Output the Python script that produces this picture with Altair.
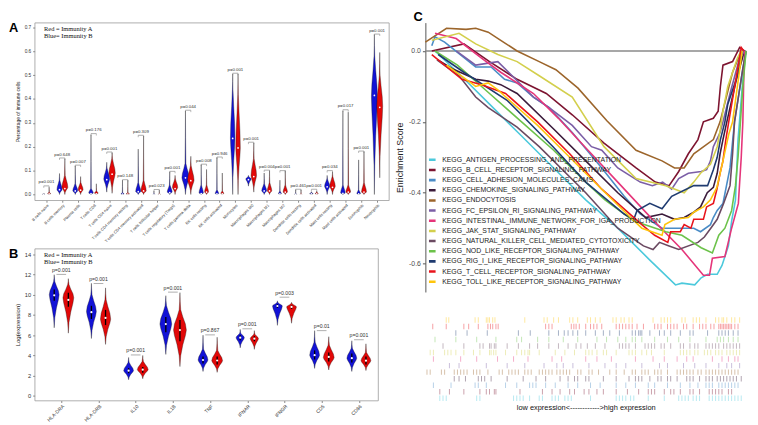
import json
import altair as alt
import pandas as pd

# ---------------- Panel A : immune cell fractions ----------------
A_CELLS = ["B cells naive", "B cells memory", "Plasma cells", "T cells CD8", "T cells CD4 naive",
           "T cells CD4 memory resting", "T cells CD4 memory activated", "T cells follicular helper",
           "T cells regulatory (Tregs)", "T cells gamma delta", "NK cells resting", "NK cells activated",
           "Monocytes", "Macrophages M0", "Macrophages M1", "Macrophages M2", "Dendritic cells resting",
           "Dendritic cells activated", "Mast cells resting", "Mast cells activated", "Eosinophils", "Neutrophils"]
A_PVALS = ["0.001", "0.648", "0.007", "0.176", "0.001", "0.148", "0.309", "0.023", "0.001", "0.044", "0.008",
           "0.946", "0.001", "0.001", "0.004", "0.001", "0.461", "0.001", "0.034", "0.017", "0.001", "0.001"]
A_BRACKET = [0.036, 0.153, 0.123, 0.255, 0.178, 0.062, 0.248, 0.021, 0.097, 0.353, 0.127, 0.157, 0.508,
             0.219, 0.102, 0.1, 0.022, 0.022, 0.1, 0.355, 0.182, 0.672]
A_BLUE_LO = [0, 0, 0, 0, 0.01, 0, 0, 0, 0, 0, 0, 0, 0, 0.035, 0, 0, 0, 0, 0, 0, 0, 0.0]
A_BLUE_MODE = [0.001, 0.02, 0.015, 0.006, 0.065, 0.002, 0.012, 0.001, 0.01, 0.07, 0.006, 0.004, 0.235, 0.065,
               0.015, 0.003, 0.001, 0.003, 0.035, 0.006, 0.003, 0.41]
A_BLUE_TOP = [0.003, 0.06, 0.045, 0.025, 0.11, 0.008, 0.05, 0.004, 0.04, 0.13, 0.04, 0.02, 0.44, 0.075, 0.045,
              0.015, 0.005, 0.008, 0.065, 0.04, 0.02, 0.58]
A_BLUE_HI = [0.005, 0.088, 0.12, 0.25, 0.135, 0.06, 0.19, 0.015, 0.095, 0.35, 0.125, 0.155, 0.505, 0.08, 0.09,
             0.06, 0.02, 0.012, 0.08, 0.35, 0.145, 0.67]
A_BLUE_HW = [1.2, 2.6, 2.5, 2.3, 3.0, 1.6, 2.6, 1.0, 2.5, 3.6, 2.2, 1.8, 2.3, 2.7, 2.5, 1.5, 1.0, 1.8, 2.6, 2.3,
             1.8, 3.0]
A_BLUE_MED = [0.001, 0.02, 0.015, 0.004, 0.062, 0.002, 0.012, 0.001, 0.008, 0.07, 0.004, 0.003, 0.235, 0.062,
              0.015, 0.003, 0.001, 0.003, 0.032, 0.005, 0.003, 0.415]
A_RED_LO = [0, 0, 0, 0, 0.005, 0, 0, 0, 0, 0, 0, 0, 0, 0.01, 0, 0, 0, 0, 0, 0, 0, 0.07]
A_RED_MODE = [0.003, 0.03, 0.02, 0.005, 0.09, 0.002, 0.015, 0.001, 0.03, 0.06, 0.01, 0.004, 0.195, 0.08, 0.015,
              0.01, 0.001, 0.003, 0.035, 0.01, 0.01, 0.37]
A_RED_TOP = [0.01, 0.08, 0.05, 0.015, 0.15, 0.008, 0.06, 0.004, 0.065, 0.12, 0.04, 0.015, 0.42, 0.15, 0.05, 0.04,
             0.005, 0.01, 0.075, 0.04, 0.05, 0.5]
A_RED_HI = [0.03, 0.15, 0.075, 0.045, 0.175, 0.06, 0.245, 0.018, 0.08, 0.16, 0.105, 0.09, 0.505, 0.216, 0.1, 0.1,
            0.02, 0.015, 0.095, 0.345, 0.18, 0.595]
A_RED_HW = [1.5, 3.0, 2.5, 1.8, 3.2, 1.6, 2.7, 1.0, 2.7, 3.3, 2.0, 1.5, 2.3, 2.8, 2.3, 2.2, 1.0, 1.5, 2.8, 2.4,
            2.5, 3.0]
A_RED_MED = [0.003, 0.025, 0.018, 0.003, 0.085, 0.002, 0.015, 0.001, 0.025, 0.058, 0.01, 0.003, 0.195, 0.075,
             0.015, 0.01, 0.001, 0.003, 0.03, 0.01, 0.01, 0.365]

# ---------------- Panel B : gene expression ----------------
B_GENES = ["HLA-DRA", "HLA-DRB", "IL10", "IL1B", "TNF", "IFNAR", "IFNGR", "CD5", "CD86"]
B_PVALS = ["0.001", "0.001", "0.001", "0.001", "0.867", "0.001", "0.003", "0.01", "0.001"]
B_BRACKET = [12.0, 11.1, 4.05, 10.25, 6.03, 6.63, 9.75, 6.45, 5.55]
B_BLUE_LO = [6.73, 5.67, 1.6, 4.1, 2.42, 4.75, 6.97, 2.72, 2.42]
B_BLUE_MODE = [10.0, 8.33, 2.5, 7.1, 3.55, 5.75, 8.88, 4.03, 3.73]
B_BLUE_TOP = [11.3, 10.0, 3.3, 8.9, 4.6, 6.2, 9.2, 5.3, 4.7]
B_BLUE_HI = [11.97, 11.12, 3.8, 9.9, 6.0, 6.57, 9.39, 6.45, 5.45]
B_BLUE_HW = [5.0, 5.0, 5.0, 6.0, 5.0, 4.2, 5.0, 5.0, 5.0]
B_BLUE_MED = [9.94, 8.27, 2.5, 7.1, 3.55, 5.75, 8.88, 4.03, 3.73]
B_BLUE_Q1 = [9.4, 7.6, 2.25, 6.3, 3.2, 5.5, 8.7, 3.6, 3.3]
B_BLUE_Q3 = [10.5, 8.9, 2.75, 7.8, 3.9, 6.0, 9.05, 4.5, 4.2]
B_RED_LO = [6.2, 5.09, 1.7, 2.9, 2.33, 4.6, 7.18, 2.57, 2.51]
B_RED_MODE = [9.7, 7.58, 2.6, 6.5, 3.48, 5.66, 8.79, 3.79, 3.48]
B_RED_TOP = [11.0, 9.5, 3.4, 8.5, 4.5, 6.1, 9.1, 5.0, 4.3]
B_RED_HI = [11.58, 10.67, 4.0, 10.2, 5.8, 6.45, 9.24, 5.85, 5.15]
B_RED_HW = [5.5, 5.2, 5.5, 6.5, 5.5, 4.2, 5.0, 5.5, 5.0]
B_RED_MED = [9.48, 7.7, 2.6, 6.5, 3.5, 5.66, 8.79, 3.85, 3.48]
B_RED_Q1 = [8.8, 7.0, 2.3, 5.4, 3.1, 5.4, 8.6, 3.4, 3.1]
B_RED_Q3 = [10.2, 8.5, 2.85, 7.5, 3.9, 5.9, 8.95, 4.3, 3.9]

# ---------------- Panel C : GSEA running enrichment scores ----------------
PATHWAYS = ["KEGG_ANTIGEN_PROCESSING_AND_PRESENTATION", "KEGG_B_CELL_RECEPTOR_SIGNALING_PATHWAY",
            "KEGG_CELL_ADHESION_MOLECULES_CAMS", "KEGG_CHEMOKINE_SIGNALING_PATHWAY", "KEGG_ENDOCYTOSIS",
            "KEGG_FC_EPSILON_RI_SIGNALING_PATHWAY", "KEGG_INTESTINAL_IMMUNE_NETWORK_FOR_IGA_PRODUCTION",
            "KEGG_JAK_STAT_SIGNALING_PATHWAY", "KEGG_NATURAL_KILLER_CELL_MEDIATED_CYTOTOXICITY",
            "KEGG_NOD_LIKE_RECEPTOR_SIGNALING_PATHWAY", "KEGG_RIG_I_LIKE_RECEPTOR_SIGNALING_PATHWAY",
            "KEGG_T_CELL_RECEPTOR_SIGNALING_PATHWAY", "KEGG_TOLL_LIKE_RECEPTOR_SIGNALING_PATHWAY"]
PATH_COLORS = ["#4CC9DC", "#7D1430", "#4A8CC6", "#3B1B3B", "#9C652B", "#7B5EA6", "#E5357A",
               "#D3CF4C", "#6B4A62", "#6CC24A", "#1F3B70", "#E8141C", "#FFC50C"]

ES_X = [
    [3, 10, 20, 30, 40, 50, 60, 70, 78, 80, 84, 86, 88, 91, 92.5, 94.5, 95.5, 96.7, 97.5, 99, 100],
    [2, 12, 20, 28.6, 37.7, 45.8, 55.7, 65.7, 71.7, 76, 79, 82, 85, 86.7, 89.8, 91.3, 92, 92.8, 95.8, 98, 99.5],
    [2, 3, 6, 15.7, 20.5, 24.7, 28.6, 33.7, 38.6, 45.8, 55, 62, 67, 73.8, 83.7, 85.8, 88.9, 89.8, 91, 92.8, 95,
     96.4, 99, 100],
    [3.9, 8.4, 15.7, 19.6, 23.5, 28.6, 40, 50, 60, 68.7, 73.8, 77.7, 80.7, 83.7, 85.8, 87.9, 89.8, 91, 91.9, 92.8,
     94, 97, 99.5],
    [0, 6.6, 12.7, 15.7, 19.6, 23.5, 28.6, 35.5, 40.7, 47.6, 56.6, 65.7, 73.8, 77.7, 80.7, 83.7, 89.8, 91.9, 95.8,
     98.5],
    [9.6, 15.7, 22.6, 26.5, 33.7, 38.6, 45.8, 51.8, 55, 60, 67, 70.8, 74, 76.8, 79, 82, 86, 87.7, 88.9, 89.8, 91.9,
     92.8, 95, 98, 99.5],
    [3, 9.6, 17.5, 23.5, 33.7, 41.5, 49.7, 60, 70.8, 80, 86.7, 88.6, 89.5, 93.4, 95.5, 97.6, 98.5, 99, 99.3, 99.6],
    [2, 10.5, 15.7, 22.6, 28.6, 35.5, 45.8, 55.7, 65.7, 75, 80.7, 83.7, 85.8, 88.9, 91, 92, 92.8, 94.3, 97.3, 98.5],
    [3.6, 10.5, 15.7, 19.6, 28.6, 35.5, 50, 60, 68, 71, 73, 76, 79, 85, 87, 89, 91, 93, 95, 95.8, 96.4, 99, 100],
    [3, 10, 20, 30, 40, 50, 56, 65, 75, 80, 86, 89.5, 91.5, 93.4, 95.5, 96.7, 97.5, 99, 100],
    [4, 12, 25.6, 39.8, 50, 62, 65, 66, 70, 73.8, 76.8, 83.7, 88, 89.8, 91, 92, 93.4, 94.3, 97.3, 98.8],
    [2, 11.4, 17.5, 25, 35, 45, 55, 67.5, 71.5, 75.6, 76.5, 79.5, 80.7, 82.8, 83.7, 86.7, 87.7, 89.8, 90.9, 91.9,
     92.8, 93.7, 94.6, 98.5, 99.3],
    [6.6, 15.7, 19.6, 22.6, 35, 45, 55, 64, 67.5, 73.8, 74.7, 77.7, 82, 83.7, 86.7, 88.9, 90.9, 92.8, 94.6, 95.8,
     98.8],
]
ES_Y = [
    [0.0, -0.06, -0.15, -0.24, -0.33, -0.42, -0.5, -0.59, -0.66, -0.655, -0.66, -0.64, -0.63, -0.63, -0.605, -0.55,
     -0.48, -0.42, -0.25, -0.08, 0.0],
    [0.0, 0.02, -0.03, -0.08, -0.12, -0.18, -0.26, -0.33, -0.37, -0.38, -0.34, -0.29, -0.25, -0.2, -0.19, -0.17,
     -0.1, -0.04, -0.03, 0.01, 0.0],
    [0.015, 0.04, 0.025, -0.045, -0.045, -0.08, -0.09, -0.13, -0.16, -0.23, -0.33, -0.41, -0.46, -0.5, -0.5, -0.51,
     -0.49, -0.47, -0.45, -0.43, -0.33, -0.2, -0.05, 0.0],
    [-0.025, -0.05, -0.08, -0.085, -0.095, -0.12, -0.22, -0.31, -0.4, -0.47, -0.46, -0.475, -0.47, -0.455, -0.44,
     -0.4, -0.385, -0.345, -0.29, -0.25, -0.2, -0.08, 0.0],
    [0.025, 0.064, 0.061, 0.064, 0.053, 0.03, 0.0, -0.03, -0.053, -0.105, -0.197, -0.28, -0.31, -0.33, -0.33, -0.29,
     -0.25, -0.2, -0.06, 0.0],
    [0.0, -0.04, -0.03, -0.065, -0.13, -0.16, -0.21, -0.27, -0.28, -0.33, -0.37, -0.38, -0.37, -0.39, -0.36, -0.345,
     -0.34, -0.335, -0.31, -0.27, -0.23, -0.2, -0.12, -0.02, 0.0],
    [0.05, 0.035, -0.02, -0.06, -0.12, -0.19, -0.27, -0.37, -0.475, -0.56, -0.633, -0.633, -0.585, -0.58, -0.5,
     -0.43, -0.3, -0.2, -0.07, 0.0],
    [0.03, 0.05, 0.02, -0.01, -0.03, -0.07, -0.13, -0.27, -0.36, -0.38, -0.40, -0.37, -0.345, -0.32, -0.27, -0.22,
     -0.17, -0.1, -0.02, 0.0],
    [-0.025, -0.07, -0.13, -0.16, -0.215, -0.27, -0.4, -0.5, -0.55, -0.56, -0.54, -0.55, -0.56, -0.54, -0.525, -0.5,
     -0.475, -0.43, -0.38, -0.29, -0.2, -0.05, 0.0],
    [0.0, -0.04, -0.12, -0.2, -0.28, -0.37, -0.42, -0.48, -0.51, -0.52, -0.555, -0.57, -0.52, -0.5, -0.45, -0.38,
     -0.3, -0.1, 0.0],
    [-0.01, -0.06, -0.14, -0.27, -0.37, -0.46, -0.475, -0.45, -0.43, -0.445, -0.41, -0.38, -0.38, -0.335, -0.3,
     -0.25, -0.2, -0.15, -0.07, 0.0],
    [-0.01, -0.08, -0.095, -0.12, -0.2, -0.29, -0.39, -0.49, -0.52, -0.54, -0.51, -0.51, -0.49, -0.5, -0.475,
     -0.475, -0.44, -0.43, -0.39, -0.345, -0.31, -0.25, -0.2, 0.01, 0.0],
    [-0.04, -0.1, -0.09, -0.11, -0.21, -0.3, -0.39, -0.47, -0.5, -0.52, -0.49, -0.475, -0.47, -0.455, -0.44, -0.42,
     -0.385, -0.31, -0.235, -0.2, 0.0],
]

# gene-set hit positions in the ranked list (0 = lowest, 1000 = highest expression)
HITS = [
    [45, 55, 65, 160, 170, 275, 285, 295, 305, 325, 355, 365, 395, 405, 415, 435, 445, 455, 515, 595, 605, 615, 625,
     640, 650, 695, 745, 790, 800, 810, 820, 835, 845, 855, 885, 895, 905, 915, 925, 935, 945, 955, 965, 975, 985],
    [45, 75, 120, 170, 190, 200, 215, 220, 295, 365, 395, 420, 450, 465, 495, 510, 535, 555, 595, 630, 665, 695, 705,
     715, 745, 765, 775, 795, 825, 835, 855, 885, 895, 905, 915, 925, 945, 955],
    [25, 80, 155, 165, 190, 250, 285, 325, 335, 345, 375, 405, 445, 475, 515, 545, 595, 625, 655, 695, 715, 755, 795,
     825, 850, 875, 885, 895, 915, 925, 935, 945, 955, 965, 975],
    [90, 105, 125, 165, 175, 185, 205, 255, 305, 345, 375, 420, 445, 465, 475, 500, 510, 555, 595, 635, 655, 665, 675,
     700, 725, 735, 755, 765, 785, 815, 825, 835, 855, 875, 885, 895, 910, 920, 930, 940, 950, 960, 970, 985],
    [5, 15, 50, 60, 90, 100, 110, 120, 130, 150, 160, 170, 195, 230, 240, 260, 270, 280, 290, 310, 320, 330, 355, 365,
     375, 385, 395, 410, 420, 430, 440, 450, 475, 485, 510, 520, 540, 575, 595, 620, 645, 655, 675, 685, 695, 715,
     725, 735, 755, 785, 795, 805, 815, 825, 835, 850, 860, 875, 885, 895, 905, 915, 925, 935, 945, 955, 965, 975],
    [75, 105, 190, 255, 310, 370, 410, 430, 460, 510, 560, 595, 625, 675, 730, 755, 805, 840, 875, 915, 940, 955,
     980],
    [25, 110, 160, 225, 275, 320, 395, 425, 500, 535, 580, 655, 710, 745, 785, 815, 835, 895, 925, 945, 965, 975],
    [15, 25, 60, 70, 80, 95, 120, 150, 170, 200, 205, 213, 220, 250, 285, 300, 310, 320, 325, 355, 405, 435, 465,
     500, 510, 520, 535, 555, 565, 595, 635, 645, 655, 675, 690, 705, 745, 795, 805, 815, 825, 840, 850, 870, 880,
     890, 905, 915, 925, 940, 950, 960, 970, 980],
    [55, 120, 170, 180, 200, 205, 215, 220, 255, 290, 325, 350, 385, 415, 445, 470, 485, 505, 530, 560, 605, 615,
     625, 635, 655, 685, 695, 705, 715, 735, 745, 765, 795, 805, 825, 840, 850, 875, 885, 895, 905, 915, 930, 940,
     950, 960, 970, 980],
    [30, 95, 160, 220, 285, 300, 350, 385, 430, 475, 535, 565, 600, 625, 645, 655, 675, 715, 755, 790, 825, 875, 910,
     920, 930, 945, 960, 975],
    [95, 130, 193, 290, 327, 385, 415, 433, 445, 460, 475, 500, 530, 555, 575, 605, 645, 655, 665, 670, 675, 700, 730,
     745, 765, 795, 825, 835, 880, 915, 925, 935, 945, 960, 975],
    [23, 65, 120, 135, 165, 195, 203, 210, 220, 227, 375, 385, 395, 455, 463, 470, 480, 500, 515, 525, 535, 550, 595,
     605, 615, 625, 635, 645, 660, 680, 715, 725, 735, 755, 765, 775, 785, 805, 815, 835, 855, 865, 875, 890, 900,
     915, 920, 925, 930, 935, 940, 945, 950, 955, 965, 975],
    [65, 73, 155, 165, 190, 195, 200, 210, 217, 310, 370, 380, 400, 415, 450, 460, 475, 505, 515, 530, 545, 585, 595,
     610, 620, 635, 645, 710, 735, 745, 755, 765, 800, 810, 835, 845, 855, 875, 905, 915, 925, 930, 940, 955, 965,
     980],
]

RED_LABEL = "Red = Immunity A"
BLUE_LABEL = "Blue= Immunity B"
RED = "#E20808"
BLUE = "#1212D6"

# violin outline template (fraction along segment, fraction of half width)
BELOW = [(0.0, 0.0), (0.3, 0.12), (0.6, 0.45), (0.85, 0.85), (1.0, 1.0)]
ABOVE = [(0.3, 0.85), (0.65, 0.45), (1.0, 0.12)]
TAIL = [(0.5, 0.04), (1.0, 0.0)]


def build(lo, mode, top, hi, hw, med, group, shift, px_per_cat, extra=None):
    rows, pts = [], []
    for i in range(len(lo)):
        c = i + 1 + shift
        w = hw[i] / px_per_cat
        vid = f"{group}-{i}"
        seq = [(lo[i] + (mode[i] - lo[i]) * t, f) for t, f in BELOW]
        seq += [(mode[i] + (top[i] - mode[i]) * t, f) for t, f in ABOVE]
        seq += [(top[i] + (hi[i] - top[i]) * t, f) for t, f in TAIL]
        for k, (yv, f) in enumerate(seq):
            rows.append({"vid": vid, "k": k, "y": yv, "x1": c - w * f, "x2": c + w * f, "grp": group})
        p = {"xc": c, "med": med[i], "grp": group}
        if extra:
            p["q1"] = extra[0][i]
            p["q3"] = extra[1][i]
        pts.append(p)
    return rows, pts


def violin_panel(names, pvals, bracket, blue, red, shift, dom_x, dom_y, yvals, ytitle, w, h,
                 letter, fs_x, fs_p, leg_len, bracket_half, with_box, yformat):
    px = w / (dom_x[1] - dom_x[0])
    rb, pb = build(*blue[:6], BLUE_LABEL, -shift, px, blue[6:] if with_box else None)
    rr, pr = build(*red[:6], RED_LABEL, shift, px, red[6:] if with_box else None)
    vdf = pd.DataFrame(rb + rr)
    mdf = pd.DataFrame(pb + pr)
    bdf = pd.DataFrame({"xc": [i + 1 for i in range(len(names))], "yb": bracket,
                        "p": ["p=" + p for p in pvals]})
    bdf["xl"] = bdf["xc"] - bracket_half
    bdf["xr"] = bdf["xc"] + bracket_half
    bdf["yleg"] = bdf["yb"] - leg_len

    xscale = alt.Scale(domain=dom_x, nice=False, zero=False)
    yscale = alt.Scale(domain=dom_y, nice=False, zero=False)
    xaxis = alt.Axis(values=list(range(1, len(names) + 1)), labelExpr=f"{json.dumps(names)}[datum.value - 1]",
                     labelAngle=-45, labelFontSize=fs_x, labelColor="#333", tickSize=2, tickColor="#888",
                     domain=False, grid=False, title=None, labelPadding=1, labelOverlap=False,
                     labelBound=False, labelFlush=False)
    yaxis = alt.Axis(values=yvals, format=yformat, labelFontSize=fs_x + 0.8, labelColor="#333", tickSize=2,
                     tickColor="#888", domain=False, grid=False, title=ytitle, titleFontSize=fs_x + 1,
                     titleFontWeight="normal", titleColor="#222", titlePadding=4, labelPadding=2)

    def X(f):
        return alt.X(f, scale=xscale, axis=xaxis, stack=None)

    def Y(f):
        return alt.Y(f, scale=yscale, axis=yaxis)

    color = alt.Color("grp:N", scale=alt.Scale(domain=[RED_LABEL, BLUE_LABEL], range=[RED, BLUE]),
                      legend=alt.Legend(title=None, orient="top-left", symbolOpacity=0, symbolSize=0,
                                        symbolStrokeWidth=0, labelOffset=0, labelFont="Liberation Serif",
                                        labelFontSize=6.5, labelColor="#111", rowPadding=0, padding=0, offset=3))
    viol = alt.Chart(vdf).mark_area(orient="horizontal", stroke="#151515", strokeWidth=0.35, opacity=1).encode(
        x=X("x1:Q"), x2="x2:Q", y=Y("y:Q"), detail="vid:N", color=color)
    layers = [viol]
    if with_box:
        layers.append(alt.Chart(mdf).mark_rule(color="black", strokeWidth=1.3).encode(
            x=X("xc:Q"), y=Y("q1:Q"), y2="q3:Q"))
    layers.append(alt.Chart(mdf).mark_point(filled=True, color="white", opacity=1, size=5 if with_box else 3,
                                            shape="circle").encode(x=X("xc:Q"), y=Y("med:Q")))
    layers.append(alt.Chart(bdf).mark_rule(color="#777", strokeWidth=0.6).encode(
        x=X("xl:Q"), x2="xr:Q", y=Y("yb:Q")))
    if leg_len > 0:
        layers.append(alt.Chart(bdf).mark_rule(color="#777", strokeWidth=0.5).encode(
            x=X("xl:Q"), y=Y("yb:Q"), y2="yleg:Q"))
        layers.append(alt.Chart(bdf).mark_rule(color="#777", strokeWidth=0.5).encode(
            x=X("xr:Q"), y=Y("yb:Q"), y2="yleg:Q"))
    layers.append(alt.Chart(bdf).mark_text(fontSize=fs_p, color="#333", baseline="bottom", dy=-1.5).encode(
        x=X("xc:Q"), y=Y("yb:Q"), text="p:N"))
    layers.append(alt.Chart(pd.DataFrame({"t": [letter]})).mark_text(
        fontSize=13, fontWeight="bold", align="left", baseline="top", color="black").encode(
        x=alt.value(-26), y=alt.value(0), text="t:N"))
    return alt.layer(*layers).properties(width=w, height=h)


A = violin_panel(A_CELLS, A_PVALS, A_BRACKET,
                 [A_BLUE_LO, A_BLUE_MODE, A_BLUE_TOP, A_BLUE_HI, A_BLUE_HW, A_BLUE_MED],
                 [A_RED_LO, A_RED_MODE, A_RED_TOP, A_RED_HI, A_RED_HW, A_RED_MED],
                 0.17, [0.25, 22.75], [-0.024, 0.72], [0, 0.1, 0.2, 0.3, 0.4, 0.5, 0.6, 0.7],
                 "Percentage of immune cells", 359, 180, "A", 4.0, 4.4, 0.008, 0.17, False, ".1f")

B = violin_panel(B_GENES, B_PVALS, B_BRACKET,
                 [B_BLUE_LO, B_BLUE_MODE, B_BLUE_TOP, B_BLUE_HI, B_BLUE_HW, B_BLUE_MED, B_BLUE_Q1, B_BLUE_Q3],
                 [B_RED_LO, B_RED_MODE, B_RED_TOP, B_RED_HI, B_RED_HW, B_RED_MED, B_RED_Q1, B_RED_Q3],
                 0.19, [0.284, 9.514], [-0.45, 14.55], [0, 2, 4, 6, 8, 10, 12, 14],
                 "Log(expression)", 348, 154, "B", 5.0, 5.2, 0.0, 0.13, True, "d")

# ---------------- Panel C chart ----------------
es_rows = []
for name, xs, ys in zip(PATHWAYS, ES_X, ES_Y):
    for k, (xv, yv) in enumerate(zip(xs, ys)):
        es_rows.append({"pathway": name, "k": k, "x": xv, "es": yv})
es_df = pd.DataFrame(es_rows)
hit_rows = [{"pathway": name, "rank": r} for name, hs in zip(PATHWAYS, HITS) for r in hs]
hit_df = pd.DataFrame(hit_rows)

c_scale = alt.Scale(domain=PATHWAYS, range=PATH_COLORS)
yC = alt.Y("es:Q", scale=alt.Scale(domain=[-0.68, 0.08], nice=False, zero=False),
           axis=alt.Axis(values=[0, -0.2, -0.4, -0.6], labelExpr="replace(format(datum.value, '.1f'), '\u2212', '-')",
                         labelFontSize=7, labelColor="#4d4d4d", tickSize=3, tickColor="#555", domainColor="#555",
                         domainWidth=1, grid=False, title="Enrichment Score", titleFontSize=9,
                         titleFontWeight="normal", titleColor="#222", titlePadding=4, labelPadding=2))
xC = alt.X("x:Q", scale=alt.Scale(domain=[0, 100], nice=False, zero=False), axis=None)

zero_line = alt.Chart(pd.DataFrame({"es": [0.0]})).mark_rule(color="#8a8a8a", strokeWidth=1.4).encode(y=yC)
curves = alt.Chart(es_df).mark_line(strokeWidth=1.6).encode(
    x=xC, y=yC, detail="pathway:N", order=alt.Order("k:Q"),
    color=alt.Color("pathway:N", scale=c_scale,
                    legend=alt.Legend(title=None, orient="none", legendX=2, legendY=135, direction="vertical",
                                      labelFontSize=7, labelColor="#222", symbolType="stroke",
                                      symbolStrokeWidth=2.6, symbolSize=45, rowPadding=2.3, clipHeight=8,
                                      labelLimit=400, padding=0, labelOffset=5)))
letterC = alt.Chart(pd.DataFrame({"t": ["C"]})).mark_text(
    fontSize=13, fontWeight="bold", align="left", baseline="top", color="black").encode(
    x=alt.value(-12), y=alt.value(-12), text="t:N")
C = alt.layer(zero_line, curves, letterC).properties(width=325, height=273,
                                                      view=alt.ViewBackground(strokeOpacity=0))

R = alt.Chart(hit_df).mark_tick(thickness=1, size=5.5, opacity=0.4).encode(
    x=alt.X("rank:Q", scale=alt.Scale(domain=[0, 1000], nice=False, zero=False),
            axis=alt.Axis(labels=False, ticks=False, domain=False, grid=False,
                          title="low expression<------------>high expression", titleFontSize=7.5,
                          titleFontWeight="normal", titleColor="#111", titlePadding=2)),
    y=alt.Y("pathway:N", sort=PATHWAYS[::-1], axis=None),
    color=alt.Color("pathway:N", scale=c_scale, legend=None),
).properties(width=325, height=86, view=alt.ViewBackground(strokeOpacity=0))

left = alt.vconcat(A, B, spacing=4).resolve_scale(color="independent")
right = alt.vconcat(C, R, spacing=25).resolve_scale(color="independent")
chart = alt.hconcat(left, right, spacing=5).resolve_scale(color="independent").properties(padding=0)
chart = chart.configure(font="Liberation Sans").configure_view(stroke="#9a9a9a", strokeWidth=0.8)

chart.save("out.html", embed_options={"renderer": "svg", "actions": False})
